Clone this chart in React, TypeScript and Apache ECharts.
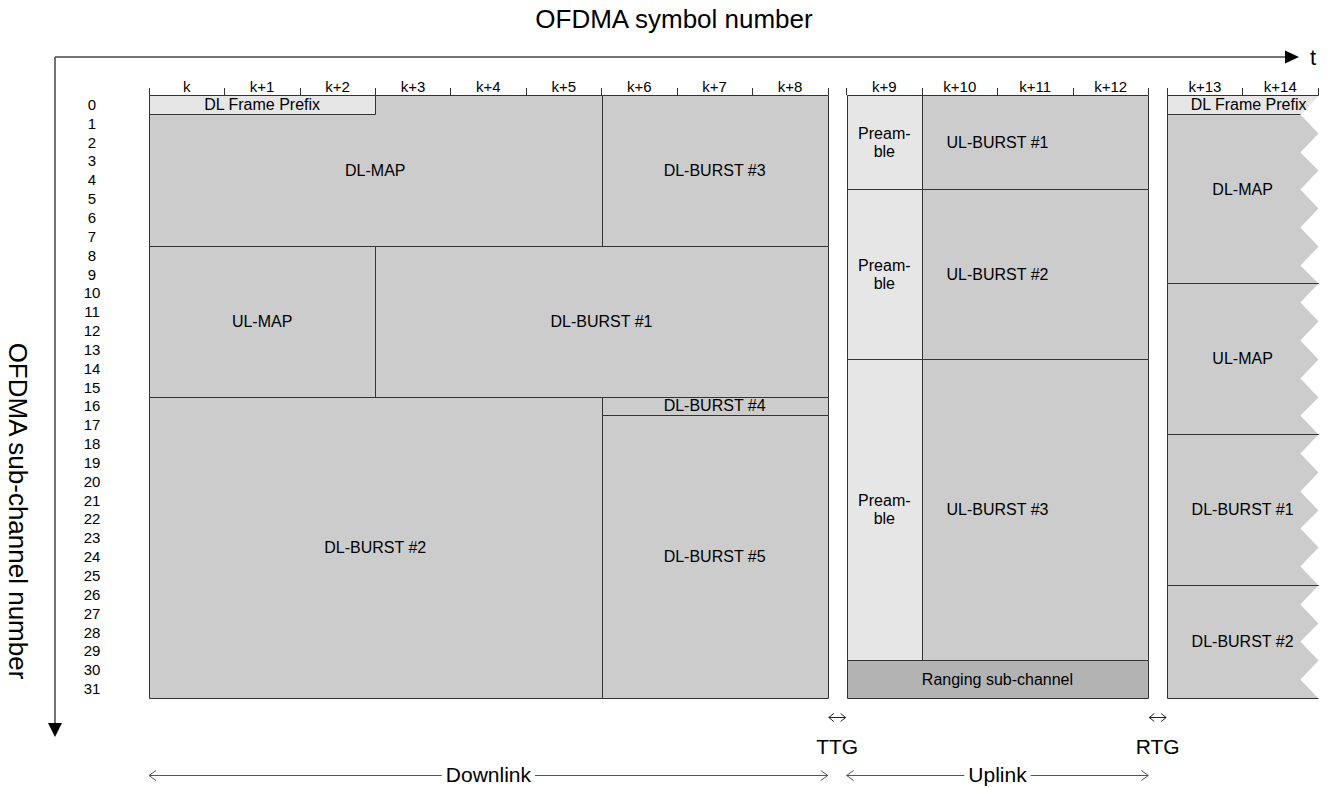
import React, { useEffect, useRef } from 'react';
import * as echarts from 'echarts';

// ---------- data ----------
const symbolLabels = ['k', 'k+1', 'k+2', 'k+3', 'k+4', 'k+5', 'k+6', 'k+7', 'k+8', 'k+9', 'k+10', 'k+11', 'k+12', 'k+13', 'k+14'];
const subChannelLabels = ['0', '1', '2', '3', '4', '5', '6', '7', '8', '9', '10', '11', '12', '13', '14', '15', '16', '17', '18', '19', '20', '21', '22', '23', '24', '25', '26', '27', '28', '29', '30', '31'];
// symbol index range [start, end) of each part: downlink, uplink, next frame
const sectionSymbols = [[0, 9], [9, 13], [13, 15]];
const guardLabels = ['TTG', 'RTG'];
const linkLabels = ['Downlink', 'Uplink'];

// [label, firstSymbol, endSymbol, firstSubChannel, endSubChannel]
const downlinkBlocks: [string, number, number, number, number][] = [
  ['DL-MAP', 0, 6, 0, 8],
  ['DL Frame Prefix', 0, 3, 0, 1],
  ['DL-BURST #3', 6, 9, 0, 8],
  ['UL-MAP', 0, 3, 8, 16],
  ['DL-BURST #1', 3, 9, 8, 16],
  ['DL-BURST #2', 0, 6, 16, 32],
  ['DL-BURST #4', 6, 9, 16, 17],
  ['DL-BURST #5', 6, 9, 17, 32],
];
const uplinkBlocks: [string, number, number, number, number][] = [
  ['UL-BURST #1', 9, 13, 0, 5],
  ['Pream-\nble', 9, 10, 0, 5],
  ['UL-BURST #2', 9, 13, 5, 14],
  ['Pream-\nble', 9, 10, 5, 14],
  ['UL-BURST #3', 9, 13, 14, 30],
  ['Pream-\nble', 9, 10, 14, 30],
  ['Ranging sub-channel', 9, 13, 30, 32],
];
const nextFrameBlocks: [string, number, number, number, number][] = [
  ['DL-MAP', 13, 15, 0, 10],
  ['DL Frame Prefix', 13, 15, 0, 1],
  ['UL-MAP', 13, 15, 10, 18],
  ['DL-BURST #1', 13, 15, 18, 26],
  ['DL-BURST #2', 13, 15, 26, 32],
];

// ---------- layout / style ----------
const GAP = 0.25; // width of TTG / RTG gap, in symbols
const TEAR = 0.24; // depth of torn edge, in symbols
const FONT = '"Liberation Sans", Arial, Helvetica, sans-serif';
const LINE = '#333';

const sections = [downlinkBlocks, uplinkBlocks, nextFrameBlocks];
const blockNames: string[] = [];
const blockData: number[][] = [];
sections.forEach((blocks, s) => {
  blocks.forEach(([name, c0, c1, r0, r1]) => {
    blockNames.push(name);
    blockData.push([c0 + s * GAP, c1 + s * GAP, r0, r1, s]);
  });
});

const tickValues: number[] = [];
const labelValues: number[] = [];
const labelMap = new Map<string, string>();
sectionSymbols.forEach(([a, b], s) => {
  for (let c = a; c <= b; c++) tickValues.push(c + s * GAP);
  for (let c = a; c < b; c++) {
    const v = c + 0.5 + s * GAP;
    labelValues.push(v);
    labelMap.set(v.toFixed(2), symbolLabels[c]);
  }
});
const xMax = sectionSymbols[2][1] + 2 * GAP;

function fillFor(name: string) {
  if (name.startsWith('DL Frame') || name.startsWith('Pream')) return '#e6e6e6';
  if (name.startsWith('Ranging')) return '#b3b3b3';
  return '#cccccc';
}
const snap = (v: number) => Math.round(v) + 0.5;

function renderBlock(params: any, api: any) {
  const x0 = api.value(0), x1 = api.value(1), r0 = api.value(2), r1 = api.value(3), s = api.value(4);
  const p0 = api.coord([x0, r0]);
  const p1 = api.coord([x1, r1]);
  const L = snap(p0[0]), T = snap(p0[1]), R = snap(p1[0]), B = snap(p1[1]);
  const name = blockNames[params.dataIndex];
  const torn = s === 2;
  const shift = torn && r1 - r0 === 1 ? 6 : 0;
  const text = {
    type: 'text',
    z2: 10,
    style: {
      text: name,
      x: (p0[0] + p1[0]) / 2 + shift,
      y: (p0[1] + p1[1]) / 2,
      align: 'center',
      verticalAlign: 'middle',
      fontSize: 16,
      lineHeight: 18,
      fontFamily: FONT,
      fill: '#000',
    },
  };
  if (!torn) {
    return {
      type: 'group',
      children: [
        { type: 'rect', shape: { x: L, y: T, width: R - L, height: B - T }, style: { fill: fillFor(name), stroke: LINE, lineWidth: 1 } },
        text,
      ],
    };
  }
  const tear = api.size([TEAR, 0])[0];
  const edge = (r: number) => (Math.round(r) % 2 === 0 ? R : R - tear);
  const pts: number[][] = [[L, T]];
  for (let r = r0; r <= r1; r++) pts.push([edge(r), snap(api.coord([x1, r])[1])]);
  pts.push([L, B]);
  return {
    type: 'group',
    children: [
      { type: 'polygon', shape: { points: pts }, style: { fill: fillFor(name), stroke: null } },
      { type: 'polyline', shape: { points: [[edge(r1), B], [L, B], [L, T], [edge(r0), T]] }, style: { fill: null, stroke: LINE, lineWidth: 1 } },
      text,
    ],
  };
}

function chevron(x: number, y: number, dir: number, len: number, half: number, color: string) {
  return {
    type: 'polyline',
    shape: { points: [[x + dir * len, y - half], [x, y], [x + dir * len, y + half]] },
    style: { fill: null, stroke: color, lineWidth: 1 },
  };
}

function renderAnnotations(params: any, api: any) {
  if (params.dataIndex !== 0) return null;
  const yBase = api.coord([0, 32])[1];
  const children: any[] = [];
  const sx = (s: number, c: number) => api.coord([c + s * GAP, 0])[0];
  // TTG / RTG
  guardLabels.forEach((g, i) => {
    const xa = sx(i, sectionSymbols[i][1]);
    const xb = sx(i + 1, sectionSymbols[i + 1][0]);
    const y = yBase + 19.5;
    const cx = (xa + xb) / 2;
    children.push({ type: 'line', shape: { x1: xa + 1, y1: y, x2: xb - 1, y2: y }, style: { stroke: '#222', lineWidth: 1 } });
    children.push(chevron(xa + 1, y, 1, 5, 4, '#222'));
    children.push(chevron(xb - 1, y, -1, 5, 4, '#222'));
    children.push({ type: 'text', style: { text: g, x: cx, y: yBase + 48, align: 'center', verticalAlign: 'middle', fontSize: 21, fontFamily: FONT, fill: '#000' } });
  });
  // Downlink / Uplink
  linkLabels.forEach((lbl, i) => {
    const xa = sx(i, sectionSymbols[i][0]);
    const xb = sx(i, sectionSymbols[i][1]);
    const y = yBase + 77.5;
    children.push({ type: 'line', shape: { x1: xa, y1: y, x2: xb, y2: y }, style: { stroke: '#555', lineWidth: 1 } });
    children.push(chevron(xa, y, 1, 7, 5, '#555'));
    children.push(chevron(xb, y, -1, 7, 5, '#555'));
    children.push({
      type: 'text',
      z2: 5,
      style: {
        text: lbl, x: (xa + xb) / 2, y: yBase + 76, align: 'center', verticalAlign: 'middle',
        fontSize: 21, fontFamily: FONT, fill: '#000', backgroundColor: '#fff', padding: [0, 4],
      },
    });
  });
  return { type: 'group', children };
}

const option: any = {
  animation: false,
  backgroundColor: '#fff',
  textStyle: { fontFamily: FONT },
  grid: { left: 149, right: 14, top: 95, bottom: 90, containLabel: false, outerBoundsMode: 'none' },
  xAxis: {
    type: 'value',
    min: 0,
    max: xMax,
    position: 'top',
    axisLine: { show: false },
    splitLine: { show: false },
    axisTick: { show: true, customValues: tickValues, length: 7, inside: false, lineStyle: { color: LINE, width: 1 } },
    axisLabel: {
      customValues: labelValues,
      formatter: (v: number) => labelMap.get(Number(v).toFixed(2)) ?? '',
      fontSize: 15,
      color: '#000',
      margin: 1,
      fontFamily: FONT,
    },
  },
  yAxis: [
    { type: 'value', min: 0, max: 32, inverse: true, show: false },
    {
      type: 'category',
      data: subChannelLabels,
      inverse: true,
      position: 'left',
      axisLine: { show: false },
      axisTick: { show: false },
      splitLine: { show: false },
      axisLabel: { interval: 0, fontSize: 15, color: '#000', align: 'center', margin: 57, fontFamily: FONT },
    },
  ],
  series: [
    {
      type: 'custom',
      name: 'blocks',
      xAxisIndex: 0,
      yAxisIndex: 0,
      clip: false,
      renderItem: renderBlock,
      data: blockData,
      silent: true,
    },
    {
      type: 'custom',
      name: 'annotations',
      xAxisIndex: 0,
      yAxisIndex: 0,
      clip: false,
      renderItem: renderAnnotations,
      data: [[0, 0]],
      silent: true,
    },
  ],
  graphic: [
    { type: 'text', x: 674, y: 19, style: { text: 'OFDMA symbol number', fontSize: 26, fontFamily: FONT, fill: '#000', align: 'center', verticalAlign: 'middle' } },
    { type: 'text', x: 18, y: 511, rotation: -Math.PI / 2, style: { text: 'OFDMA sub-channel number', fontSize: 26, fontFamily: FONT, fill: '#000', align: 'center', verticalAlign: 'middle' } },
    { type: 'line', shape: { x1: 55, y1: 57, x2: 1288, y2: 57 }, style: { stroke: '#444', lineWidth: 1.5 } },
    { type: 'polygon', shape: { points: [[1285, 50.5], [1299, 57], [1285, 63.5]] }, style: { fill: '#000' } },
    { type: 'text', x: 1313, y: 57, style: { text: 't', fontSize: 22, fontFamily: FONT, fill: '#000', align: 'center', verticalAlign: 'middle' } },
    { type: 'line', shape: { x1: 55, y1: 57, x2: 55, y2: 726 }, style: { stroke: '#444', lineWidth: 1.5 } },
    { type: 'polygon', shape: { points: [[48, 723], [62, 723], [55, 737]] }, style: { fill: '#000' } },
  ],
};

export default function App() {
  const ref = useRef<HTMLDivElement>(null);
  useEffect(() => {
    const chart = echarts.init(ref.current!, null, { renderer: 'svg' });
    chart.setOption(option);
    return () => chart.dispose();
  }, []);
  return <div ref={ref} style={{ position: 'absolute', left: 0, top: 0, width: 1332, height: 788 }} />;
}
